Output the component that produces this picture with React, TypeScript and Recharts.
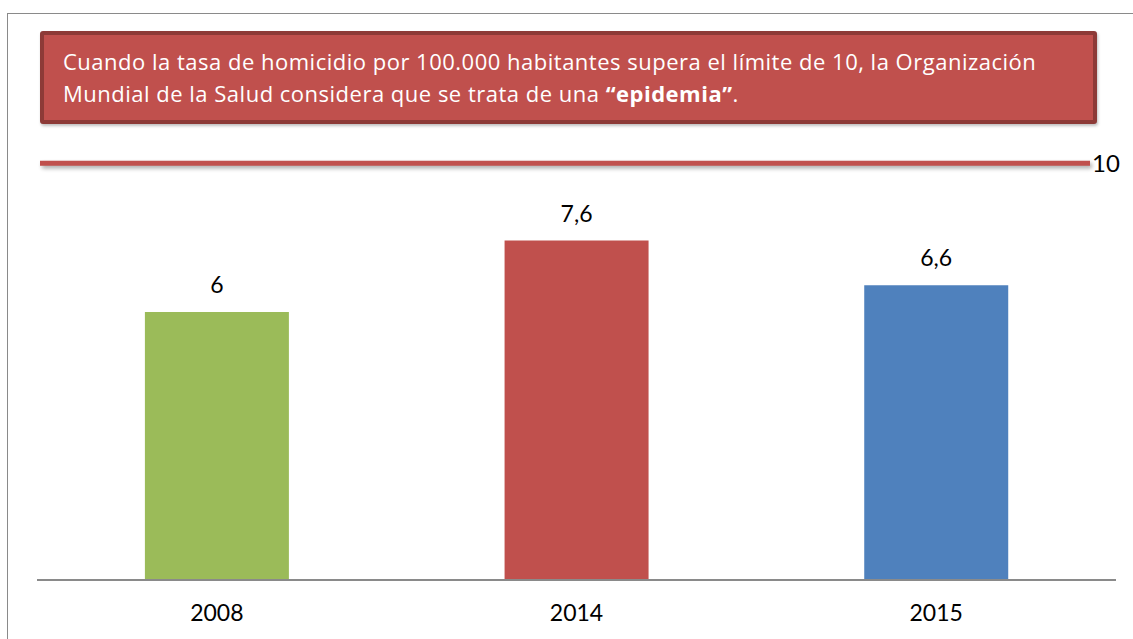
import { Bar, BarChart, Cell, LabelList, ReferenceLine, XAxis, YAxis } from 'recharts';

const years = ['2008', '2014', '2015'];
const rates = [6, 7.6, 6.6];
const barColors = ['#9bbb59', '#c0504d', '#4f81bd'];

// the "epidemic" threshold; the source draws its line a bit below 10 on the bar scale
const limitLabel = '10';
const limitLineAt = 9.33;

const data = years.map((year, i) => ({ year, rate: rates[i] }));

const fmt = (v: any) => String(v).replace('.', ',');

function LimitLine(props: any) {
  const { x1, x2, y1 } = props;
  const left = x1 + 3;
  const right = x2 - 26;
  return (
    <g>
      <defs>
        <filter id="lineShadow" filterUnits="userSpaceOnUse" x="0" y="0" width="1133" height="639">
          <feGaussianBlur stdDeviation="2" />
        </filter>
      </defs>
      <rect x={left + 2} y={y1} width={right - left} height={5} fill="#000" opacity={0.35} filter="url(#lineShadow)" />
      <rect x={left} y={y1 - 2.5} width={right - left} height={5} fill="#c0504d" />
      <text x={right + 2} y={y1} dy="0.36em" fontSize={24} fill="#000" fontFamily="Lato, sans-serif">
        {limitLabel}
      </text>
    </g>
  );
}

export default function App() {
  return (
    <div
      style={{
        position: 'fixed',
        left: 0,
        top: 0,
        width: 1133,
        height: 639,
        background: '#fff',
        overflow: 'hidden',
        fontFamily: 'Lato, sans-serif',
      }}
    >
      <div
        style={{
          position: 'absolute',
          left: 7,
          top: 13,
          width: 1200,
          height: 700,
          borderLeft: '1.5px solid #8a8a8a',
          borderTop: '1.5px solid #8a8a8a',
        }}
      />
      <div style={{ position: 'absolute', left: 0, top: 0 }}>
        <BarChart
          width={1133}
          height={639}
          data={data}
          margin={{ top: 44, right: 17, bottom: 0, left: 37 }}
          barCategoryGap="30%"
        >
          <XAxis
            dataKey="year"
            height={59}
            axisLine={{ stroke: '#8a8a8a', strokeWidth: 2 }}
            tickLine={false}
            tickMargin={19}
            tick={{ fill: '#000', fontSize: 23, fontFamily: 'Lato, sans-serif' }}
          />
          <YAxis hide domain={[0, 12]} />
          <ReferenceLine y={limitLineAt} shape={LimitLine} ifOverflow="visible" />
          <Bar dataKey="rate" isAnimationActive={false}>
            {data.map((d, i) => (
              <Cell key={d.year} fill={barColors[i]} />
            ))}
            <LabelList
              dataKey="rate"
              position="top"
              offset={19}
              formatter={fmt}
              style={{ fill: '#000', fontSize: 23, fontFamily: 'Lato, sans-serif' }}
            />
          </Bar>
        </BarChart>
      </div>
      <div
        style={{
          position: 'absolute',
          left: 40,
          top: 31,
          width: 1057,
          height: 93,
          boxSizing: 'border-box',
          background: '#c0504d',
          border: '4px solid #8d3a37',
          borderRadius: 3,
          boxShadow: '1px 2px 3px rgba(0,0,0,0.25)',
          color: '#fff',
          fontFamily: '"Open Sans", sans-serif',
          fontSize: 22,
          letterSpacing: 0.5,
          lineHeight: '32px',
          padding: '10px 0 0 19px',
          whiteSpace: 'nowrap',
        }}
      >
        Cuando la tasa de homicidio por 100.000 habitantes supera el límite de 10, la Organización
        <br />
        Mundial de la Salud considera que se trata de una <b>“epidemia”</b>.
      </div>
    </div>
  );
}
